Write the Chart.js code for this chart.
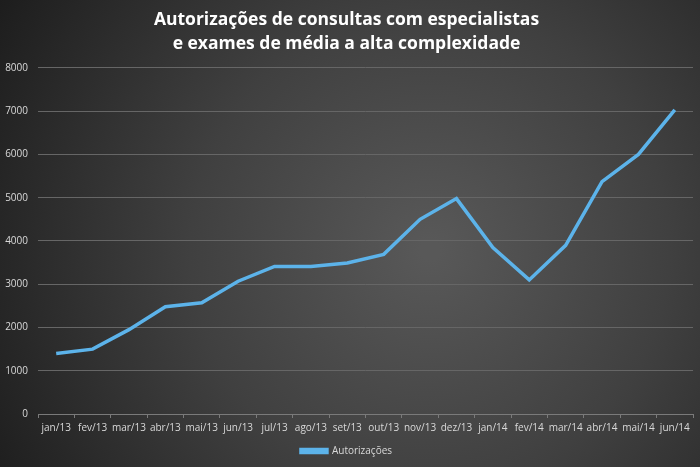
<!DOCTYPE html>
<html>
<head>
<meta charset="utf-8">
<script src="https://cdn.jsdelivr.net/npm/chart.js@4/dist/chart.umd.min.js"></script>
<style>
html,body{margin:0;padding:0;background:#2a2a2a;}
#wrap{width:700px;height:467px;}
</style>
</head>
<body>
<div id="wrap"><canvas id="c" width="700" height="467"></canvas></div>
<script>
const categories = ["jan/13","fev/13","mar/13","abr/13","mai/13","jun/13","jul/13","ago/13","set/13","out/13","nov/13","dez/13","jan/14","fev/14","mar/14","abr/14","mai/14","jun/14"];
const autorizacoes = [1400,1500,1950,2480,2570,3070,3410,3410,3490,3690,4500,4980,3850,3100,3900,5370,6000,7030];
const seriesName = "Autorizações";
const titleLines = ["Autorizações de consultas com especialistas","e exames de média a alta complexidade"];

const bgPlugin = {
  id: 'bg',
  beforeDraw(chart) {
    const ctx = chart.ctx, w = chart.width, h = chart.height;
    ctx.save();
    const g = ctx.createRadialGradient(430, 250, 10, 430, 250, 520);
    g.addColorStop(0, '#585858');
    g.addColorStop(0.45, '#404040');
    g.addColorStop(1, '#1a1a1a');
    ctx.fillStyle = g;
    ctx.fillRect(0, 0, w, h);
    ctx.restore();
  }
};

new Chart(document.getElementById('c'), {
  type: 'line',
  data: {
    labels: categories,
    datasets: [{
      label: seriesName,
      data: autorizacoes,
      borderColor: '#5cb3ea',
      backgroundColor: '#5cb3ea',
      borderWidth: 3.5,
      pointRadius: 0,
      tension: 0,
      fill: false
    }]
  },
  options: {
    responsive: false,
    animation: false,
    devicePixelRatio: 1,
    layout: { padding: { left: 0, right: 7, top: 4, bottom: 1 } },
    plugins: {
      title: {
        display: true,
        text: titleLines,
        color: '#ffffff',
        font: { family: 'Open Sans', size: 17.5, weight: 'bold', lineHeight: 1.37 },
        padding: { top: 4, bottom: 12 }
      },
      legend: {
        position: 'bottom',
        labels: {
          color: '#d9d9d9',
          font: { family: 'Open Sans', size: 10 },
          boxWidth: 26,
          boxHeight: 3,
          padding: 8
        }
      },
      tooltip: { enabled: false }
    },
    scales: {
      x: {
        offset: true,
        grid: { display: true, drawOnChartArea: false, drawTicks: true, tickLength: 4, offset: true, color: '#7a7a7a' },
        border: { display: true, color: '#7a7a7a' },
        ticks: { color: '#d9d9d9', font: { family: 'Open Sans', size: 10 }, maxRotation: 0, autoSkip: false, padding: 4 }
      },
      y: {
        min: 0, max: 8000,
        ticks: { stepSize: 1000, color: '#d9d9d9', font: { family: 'Open Sans', size: 10 }, padding: 10,
                 callback: (v) => String(v) },
        grid: { color: '#666666', drawTicks: false, lineWidth: 1 },
        border: { display: false },
        afterFit(scale) { scale.width = 38; }
      }
    }
  },
  plugins: [bgPlugin]
});
</script>
</body>
</html>
